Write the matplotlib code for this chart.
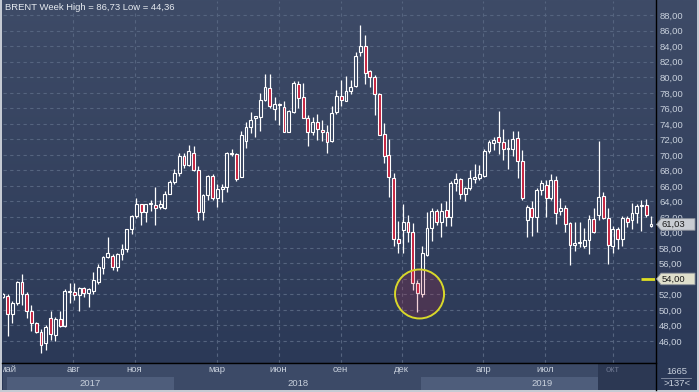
import matplotlib
matplotlib.use('Agg')
import matplotlib.pyplot as plt
import numpy as np
from matplotlib.patches import Rectangle, Ellipse, Polygon
from matplotlib.colors import LinearSegmentedColormap
from matplotlib.transforms import blended_transform_factory
from matplotlib.lines import Line2D

# weekly BRENT candles
opens = [51.7, 51.8, 49.5, 50.9, 53.6, 52.1, 49.9, 48.3, 47.2, 45.7,
         48.9, 46.8, 48.8, 47.9, 52.3, 52.3, 51.9, 52.8, 52.2, 52.5,
         53.6, 55.4, 56.8, 57.0, 55.6, 57.2, 57.8, 60.4, 62.1, 63.6,
         62.6, 63.6, 63.5, 63.3, 63.2, 65.0, 66.5, 67.6, 69.9, 68.7,
         70.3, 68.1, 62.6, 64.8, 67.3, 64.5, 65.6, 65.9, 70.3, 70.1,
         67.2, 71.8, 73.6, 74.7, 74.9, 77.1, 78.6, 75.9, 76.6, 76.2,
         73.0, 75.5, 79.1, 77.4, 74.8, 72.9, 74.3, 73.2, 72.9, 71.8,
         75.5, 77.6, 77.0, 78.2, 78.9, 83.2, 84.1, 80.8, 80.0, 77.8,
         72.7, 70.0, 67.0, 59.1, 60.3, 61.3, 60.1, 53.5, 52.0, 57.1,
         60.6, 62.7, 61.4, 62.9, 62.0, 66.4, 66.9, 65.0, 65.7, 66.9,
         67.0, 67.3, 70.5, 71.5, 72.3, 71.7, 70.7, 70.8, 72.2, 69.2,
         61.6, 63.2, 62.0, 65.5, 66.1, 64.4, 66.8, 62.7, 63.2, 61.2,
         58.4, 58.6, 58.2, 59.0, 61.7, 62.2, 64.7, 61.8, 58.2, 60.5,
         59.2, 61.9, 61.6, 62.5, 63.4, 63.5, 60.8]
highs = [52.2, 52.1, 51.1, 53.7, 54.6, 52.3, 50.6, 48.5, 47.6, 48.0,
         49.9, 49.1, 49.9, 52.7, 53.5, 53.5, 53.0, 52.9, 52.8, 54.9,
         55.9, 57.0, 59.4, 57.2, 57.4, 58.5, 60.5, 62.2, 64.5, 63.6,
         63.7, 64.2, 65.9, 64.2, 65.3, 66.7, 68.2, 70.3, 70.3, 71.3,
         71.1, 68.5, 64.9, 67.4, 67.5, 66.3, 66.3, 70.4, 70.8, 70.2,
         73.1, 74.3, 75.5, 75.0, 78.0, 80.4, 80.4, 77.5, 76.7, 76.9,
         75.8, 79.5, 79.5, 79.3, 75.2, 74.9, 75.3, 74.5, 73.9, 76.3,
         78.3, 79.7, 80.2, 79.6, 83.2, 86.8, 85.5, 81.0, 80.3, 78.0,
         74.1, 72.0, 67.7, 61.5, 63.7, 62.3, 61.2, 53.9, 58.2, 62.6,
         63.1, 63.0, 63.8, 64.0, 66.6, 67.7, 67.0, 65.9, 68.0, 68.8,
         68.7, 70.7, 71.9, 72.3, 75.6, 73.3, 72.0, 73.1, 73.1, 70.6,
         63.5, 64.0, 65.7, 66.8, 66.7, 67.5, 67.3, 64.5, 63.5, 61.4,
         61.4, 61.4, 60.6, 62.2, 63.1, 71.8, 65.2, 63.1, 60.8, 60.7,
         62.1, 62.1, 63.8, 63.7, 64.2, 64.3, 62.1]
lows = [51.5, 46.6, 48.3, 50.6, 50.6, 48.9, 47.3, 47.0, 44.4, 44.9,
        46.1, 46.0, 47.8, 47.8, 50.9, 51.3, 49.9, 51.7, 50.4, 52.1,
        53.3, 54.7, 56.7, 55.1, 55.0, 56.5, 57.5, 59.8, 61.9, 61.0,
        61.3, 62.8, 61.0, 63.0, 63.0, 64.9, 66.2, 67.3, 68.3, 68.5,
        67.9, 61.6, 61.6, 64.2, 64.2, 63.3, 63.9, 65.2, 69.9, 66.6,
        67.1, 70.9, 72.8, 72.3, 73.1, 77.0, 76.0, 74.5, 73.9, 72.9,
        72.9, 75.4, 76.0, 74.7, 71.1, 72.5, 71.9, 71.8, 70.2, 71.6,
        75.3, 76.3, 76.9, 77.8, 78.8, 82.7, 79.2, 78.8, 75.2, 72.5,
        69.0, 64.6, 58.3, 57.3, 57.4, 58.7, 52.6, 49.8, 51.7, 56.9,
        58.9, 60.9, 59.4, 60.8, 60.8, 65.3, 64.3, 64.1, 65.5, 66.4,
        66.8, 67.1, 70.3, 70.6, 70.1, 69.4, 68.2, 69.9, 67.0, 64.2,
        59.4, 59.5, 60.1, 64.8, 62.0, 64.2, 61.1, 62.2, 60.1, 55.8,
        57.6, 58.1, 58.0, 57.2, 59.9, 61.6, 61.7, 55.9, 57.3, 57.8,
        58.2, 60.7, 60.5, 61.2, 60.2, 62.0, 60.75]
closes = [52.0, 49.5, 50.9, 53.6, 52.1, 49.9, 48.3, 47.2, 45.5, 47.8,
          46.9, 48.8, 47.9, 52.5, 52.5, 51.9, 52.8, 52.2, 52.7, 53.8,
          55.6, 56.8, 57.4, 55.6, 57.2, 57.8, 60.4, 62.1, 63.6, 62.6,
          63.6, 63.8, 63.2, 63.7, 65.0, 66.5, 67.6, 69.9, 68.7, 70.5,
          68.1, 62.6, 64.8, 67.3, 64.5, 65.6, 65.9, 70.3, 70.1, 66.9,
          72.5, 73.6, 74.5, 75.0, 77.1, 78.7, 76.3, 76.6, 76.4, 72.9,
          75.6, 79.3, 77.3, 74.8, 72.9, 74.3, 73.3, 72.9, 71.7, 75.4,
          77.6, 77.1, 78.2, 78.8, 82.8, 84.1, 80.6, 80.0, 77.8, 72.6,
          69.9, 67.1, 59.1, 58.6, 61.3, 60.1, 53.5, 52.2, 57.3, 60.6,
          62.7, 61.4, 62.8, 62.0, 66.4, 66.9, 65.0, 65.7, 67.0, 67.1,
          67.5, 70.5, 71.6, 71.9, 71.7, 70.7, 70.9, 72.1, 69.2, 64.4,
          63.3, 62.0, 65.5, 66.4, 64.4, 66.8, 62.5, 63.2, 61.1, 58.4,
          58.6, 58.8, 59.0, 61.7, 60.1, 64.6, 61.8, 58.4, 60.5, 59.2,
          61.9, 61.4, 62.5, 63.4, 63.5, 62.2, 61.03]

month_labels = ['май', 'авг', 'ноя', 'мар', 'июн', 'сен', 'дек', 'апр', 'июл', 'окт']
month_pos = [1.07, 14.71, 27.62, 44.83, 57.84, 70.85, 83.65, 100.76, 113.77, 127.93]
year_labels = ['2017', '2018', '2019']
year_pos = [18.3, 61.9, 113.1]
year_edges = [0.86, 35.9, 87.7, 138.5]
price_ticks = np.arange(46, 89, 2)
last_price = 61.03
level_price = 54.00
bars_total = 1665
bars_shown = 137

W, H = 699, 392
UP = 'none'
DOWN = '#c41e3c'
TXT = '#c8d0dc'

fig = plt.figure(figsize=(W / 100, H / 100), dpi=100, facecolor='#c5cad3')

# dark panel with a soft vertical gradient
bg = fig.add_axes([2 / W, 2 / H, 695 / W, 390 / H])
cmap = LinearSegmentedColormap.from_list('bg', ['#2a3856', '#3e4b67'])
bg.imshow(np.linspace(0, 1, 256).reshape(-1, 1), cmap=cmap, aspect='auto',
          origin='lower', extent=[0, 1, 0, 1])
bg.set_axis_off()

# price chart
ax = fig.add_axes([3 / W, (H - 363) / H, 652 / W, 362 / H], facecolor='none')
n = len(closes)
x = np.arange(n)
ax.set_xlim(0.02, 136.84)
ax.set_ylim(43.16, 89.84)

for p in price_ticks:
    ax.axhline(p, color='#55647f', lw=0.8, ls=(0, (3, 3)), zorder=1)
for m in month_pos[1:]:
    ax.axvline(m, color='#55647f', lw=0.8, ls=(0, (3, 3)), zorder=1)

bw = 0.6
for i in range(n):
    o, h, l, c = opens[i], highs[i], lows[i], closes[i]
    top, bot = max(o, c), min(o, c)
    if top - bot < 0.15:
        top = bot + 0.15
    ax.vlines(x[i], top, h, color='white', lw=0.9, zorder=3)
    ax.vlines(x[i], l, bot, color='white', lw=0.9, zorder=3)
    fc = DOWN if c < o else UP
    ax.add_patch(Rectangle((x[i] - bw / 2, bot), bw, top - bot, fc=fc,
                           ec='white', lw=0.8, zorder=4))

# highlighted low
ax.add_patch(Ellipse((87.43, 52.06), 49 / 4.765, 49 / 7.755,
                     fc=(0.75, 0.12, 0.24, 0.2), ec='#d8d82a', lw=1.4, zorder=5))
ax.hlines(level_price, 133.85, 136.84, color='#dede22', lw=2, zorder=5)

# the 54,00 tag sits exactly on its own tick label, so leave that one blank
ax.set_xticks([])
ax.yaxis.tick_right()
ax.set_yticks(price_ticks)
ax.set_yticklabels(['' if p == level_price else f'{p:.2f}'.replace('.', ',')
                    for p in price_ticks], fontfamily='Liberation Sans')
ax.tick_params(axis='y', length=0, pad=3, labelsize=6.8, labelcolor=TXT)
for s in ['left', 'top']:
    ax.spines[s].set_visible(False)
ax.spines['bottom'].set_color('black')
ax.spines['right'].set_visible(False)

ax.text(0.003, 0.982, 'BRENT Week High = 86,73 Low = 44,36', transform=ax.transAxes,
        ha='left', va='center', fontsize=6.8, color='#e6eaf0',
        fontfamily='Liberation Sans')

# price tags on the right scale
tr = blended_transform_factory(fig.transFigure, ax.transData)
for val, col in [(last_price, '#c9cdd3'), (level_price, '#e0e0cc')]:
    dy = 5.8 / 7.755
    pts = [(656.5 / W, val), (661 / W, val + dy), (695 / W, val + dy),
           (695 / W, val - dy), (661 / W, val - dy)]
    fig.add_artist(Polygon(pts, closed=True, transform=tr, fc=col,
                           ec='#8a909a', lw=0.6, clip_on=False, zorder=6))
    fig.text(662 / W, val, f'{val:.2f}'.replace('.', ','), transform=tr,
             ha='left', va='center', fontsize=6.8, color='#1c1c1c',
             fontfamily='Liberation Sans', zorder=7)

# time scale
axb = fig.add_axes([3 / W, 2 / H, 652 / W, 27 / H])
axb.set_xlim(ax.get_xlim())
axb.set_ylim(0, 27)
axb.set_axis_off()
axb.add_patch(Rectangle((0, 0), 140, 27, fc='#3c4a67', ec='none'))
for k in [0, 2]:
    axb.add_patch(Rectangle((year_edges[k], 0), year_edges[k + 1] - year_edges[k],
                            13, fc='#4e5d7b', ec='none'))
axb.add_patch(Rectangle((124.9, 0), 20, 27, fc='#2c3853', ec='none'))
for m, lab in zip(month_pos, month_labels):
    axb.text(m, 20, lab, ha='center', va='center', fontsize=6.8,
             color='#68728c' if lab == 'окт' else TXT,
             fontfamily='Liberation Sans', clip_on=True)
for m, lab in zip(year_pos, year_labels):
    axb.text(m, 6.5, lab, ha='center', va='center', fontsize=6.8, color=TXT,
             fontfamily='Liberation Sans', clip_on=True)

# bar counter box
fig.text(677 / W, 1 - 372 / H, str(bars_total), ha='center', va='center',
         fontsize=6.8, color=TXT, fontfamily='Liberation Sans')
fig.text(677 / W, 1 - 384 / H, f'>{bars_shown}<', ha='center', va='center',
         fontsize=6.8, color=TXT, fontfamily='Liberation Sans')
fig.add_artist(Line2D([661 / W, 691 / W], [1 - 377.5 / H] * 2, color='#8a94a8', lw=0.6))
fig.add_artist(Line2D([655.5 / W, 655.5 / W], [2 / H, 1], color='black', lw=1))
fig.add_artist(Line2D([2 / W, 655.5 / W], [1 - 363 / H] * 2, color='black', lw=1))

fig.savefig('out.png', dpi=100, facecolor=fig.get_facecolor())
